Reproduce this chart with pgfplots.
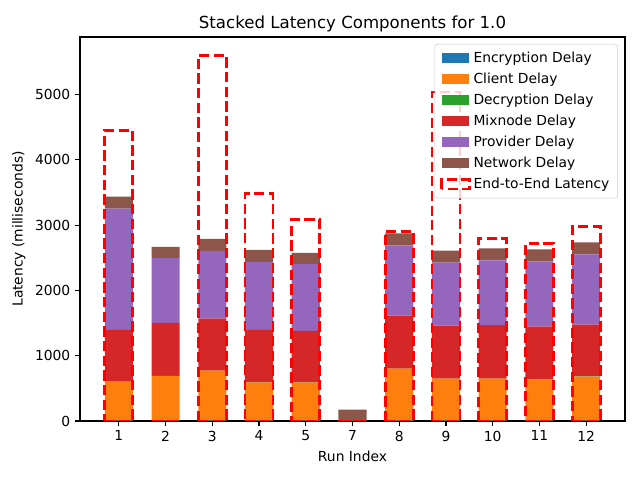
\documentclass[border=0pt]{standalone}
\usepackage{pgfplots}
\usepackage{pgfplotstable}
\pgfplotsset{compat=1.18}
\usepackage{fontspec}
\setmainfont{DejaVu Sans}
\definecolor{tabblue}{HTML}{1F77B4}
\definecolor{taborange}{HTML}{FF7F0E}
\definecolor{tabgreen}{HTML}{2CA02C}
\definecolor{tabred}{HTML}{D62728}
\definecolor{tabpurple}{HTML}{9467BD}
\definecolor{tabbrown}{HTML}{8C564B}
\pgfplotstableread{
x enc cli dec mix prov net e2e
0  5 598 2 791 1856 184 4452
1  5 685 2 811  997 169 0
2  5 766 2 796 1038 184 5603
3  5 583 2 806 1043 184 3482
4  5 583 2 790 1028 169 3088
5  0   0 0   0    0 174 0
6  5 797 2 811 1074 184 2904
7  5 644 2 811  966 184 5041
8  5 644 2 816  992 184 2791
9  5 629 2 811  997 184 2720
10 5 675 2 796 1073 184 2981
}\data
\pgfplotsset{
  common/.style={
    width=5.45in, height=3.84in, scale only axis,
    at={(0,0)}, anchor=south west,
    xmin=-0.83, xmax=10.83, ymin=0, ymax=5883,
    bar width=0.6,
    xtick={0,...,10}, xticklabels={1,2,3,4,5,7,8,9,10,11,12},
    ytick={0,1000,2000,3000,4000,5000},
    tick align=outside, tick pos=left,
    major tick length=3.5pt,
    every tick/.style={black, line width=0.8pt},
    axis line style={line width=0.8pt},
    tick label style={font=\fontsize{10}{12}\selectfont},
    /pgf/number format/assume math mode=true,
    /pgf/number format/1000 sep={},
  },
  mplfill/.style={legend image code/.code={\fill[draw=none, fill=#1, fill opacity=1, sharp corners] (0pt,-3.5pt) rectangle (20pt,3.5pt);}},
  mpldash/.style={legend image code/.code={\draw[draw=red, line width=2pt, dash pattern=on 7.4pt off 3.2pt, draw opacity=1, fill=none, sharp corners] (0pt,-3.5pt) rectangle (20pt,3.5pt);}},
}
\begin{document}
\begin{tikzpicture}
\path (-0.80in,-0.59in) rectangle (5.60in,4.21in);
\begin{axis}[common,
    ybar stacked,
    title={Stacked Latency Components for 1.0},
    title style={font=\fontsize{12}{14}\selectfont, yshift=-5.6pt},
    xlabel={Run Index}, ylabel={Latency (milliseconds)},
    label style={font=\fontsize{10}{12}\selectfont},
  ]
\addplot[fill=tabblue, draw=none] table[x=x,y=enc] {\data};
\addplot[fill=taborange, draw=none] table[x=x,y=cli] {\data};
\addplot[fill=tabgreen, draw=none] table[x=x,y=dec] {\data};
\addplot[fill=tabred, draw=none] table[x=x,y=mix] {\data};
\addplot[fill=tabpurple, draw=none] table[x=x,y=prov] {\data};
\addplot[fill=tabbrown, draw=none] table[x=x,y=net] {\data};
\end{axis}
\begin{axis}[common,
    ybar, bar shift=0pt,
    axis lines=none, xtick=\empty, ytick=\empty,
    legend style={at={(0.987,0.982)}, anchor=north east,
      draw=black!20, fill=white, fill opacity=0.8, text opacity=1,
      rounded corners=2pt, font=\fontsize{10}{12}\selectfont,
      row sep=2.1pt, inner xsep=4pt, inner ysep=3.5pt},
    legend cell align=left,
  ]
\addlegendimage{mplfill=tabblue}
\addlegendimage{mplfill=taborange}
\addlegendimage{mplfill=tabgreen}
\addlegendimage{mplfill=tabred}
\addlegendimage{mplfill=tabpurple}
\addlegendimage{mplfill=tabbrown}
\addplot[mpldash, fill=none, draw=red, line width=2pt, dash pattern=on 7.4pt off 3.2pt] table[x=x,y=e2e] {\data};
\legend{Encryption Delay, Client Delay, Decryption Delay, Mixnode Delay, Provider Delay, Network Delay, End-to-End Latency}
\end{axis}
\end{tikzpicture}
\end{document}
